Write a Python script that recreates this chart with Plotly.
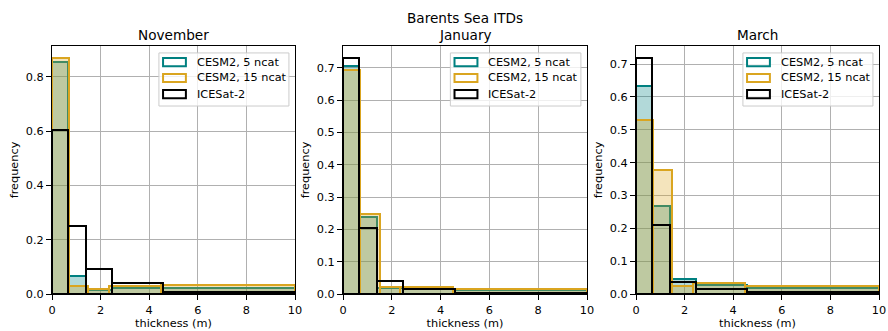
import plotly.graph_objects as go
import numpy as np

# ---- data ----
months = ["November", "January", "March"]
edges_5ncat = [0.0, 0.64, 1.39, 2.47, 4.57, 10.0]
edges_15ncat = [0.0, 0.70, 1.50, 2.33, 4.49, 10.0]
edges_icesat = [0.0, 0.64, 1.39, 2.47, 4.57, 10.0]

cesm5_nov = [0.854, 0.065, 0.015, 0.021, 0.023]
cesm15_nov = [0.870, 0.031, 0.017, 0.031, 0.033]
icesat_nov = [0.603, 0.251, 0.091, 0.041, 0.008]

cesm5_jan = [0.705, 0.238, 0.018, 0.017, 0.012]
cesm15_jan = [0.692, 0.248, 0.021, 0.021, 0.016]
icesat_jan = [0.731, 0.204, 0.040, 0.016, 0.004]

cesm5_mar = [0.632, 0.269, 0.045, 0.028, 0.018]
cesm15_mar = [0.529, 0.378, 0.025, 0.034, 0.023]
icesat_mar = [0.719, 0.209, 0.037, 0.016, 0.005]

series_labels = ["CESM2, 5 ncat", "CESM2, 15 ncat", "ICESat-2"]
x_ticks = [0, 2, 4, 6, 8, 10]

cesm5 = [cesm5_nov, cesm5_jan, cesm5_mar]
cesm15 = [cesm15_nov, cesm15_jan, cesm15_mar]
icesat = [icesat_nov, icesat_jan, icesat_mar]

# ---- style ----
TEAL = "#008080"
GOLD = "#DAA520"
FONT = "DejaVu Sans"
FS = 11.3
TFS = 13.6

W, H = 888, 331
ML, MR, MT, MB = 52, 9, 46, 37
pw = W - ML - MR
ph = H - MT - MB
domains = [
    [0.0, 243 / pw],
    [291 / pw, 535 / pw],
    [584 / pw, 1.0],
]

fig = go.Figure()

def add_bars(edges, vals, fill, line, k):
    e = np.array(edges)
    fig.add_trace(go.Bar(
        x=e[:-1], y=vals, width=np.diff(e), offset=0,
        marker=dict(color=fill, line=dict(color=line, width=2)),
        xaxis=f"x{k if k > 1 else ''}", yaxis=f"y{k if k > 1 else ''}",
        showlegend=False, hoverinfo="skip",
    ))

for i in range(3):
    k = i + 1
    add_bars(edges_5ncat, cesm5[i], "rgba(0,128,128,0.3)", TEAL, k)
    add_bars(edges_15ncat, cesm15[i], "rgba(218,165,32,0.3)", GOLD, k)
    add_bars(edges_icesat, icesat[i], "rgba(0,0,0,0)", "black", k)

layout = dict(
    width=W, height=H,
    margin=dict(l=ML, r=MR, t=MT, b=MB, autoexpand=False),
    paper_bgcolor="white", plot_bgcolor="white",
    barmode="overlay", bargap=0,
    font=dict(family=FONT, size=FS, color="black"),
    showlegend=False,
)

axis_common = dict(
    showline=True, linecolor="black", linewidth=1, mirror=True,
    ticks="outside", ticklen=5, tickwidth=1, tickcolor="black",
    showgrid=True, gridcolor="#b0b0b0", gridwidth=1,
    zeroline=False, tickfont=dict(family=FONT, size=FS, color="black"),
    automargin=False,
)

shapes = []
annotations = []
for i in range(3):
    k = i + 1
    sfx = "" if k == 1 else str(k)
    ymax = max(max(cesm5[i]), max(cesm15[i]), max(icesat[i])) * 1.05
    dt = 0.2 if i == 0 else 0.1
    layout[f"xaxis{sfx}"] = dict(
        axis_common, domain=domains[i], range=[0, 10], tickvals=x_ticks,
        anchor=f"y{sfx}",
        title=dict(text="thickness (m)", font=dict(family=FONT, size=FS), standoff=1),
    )
    layout[f"yaxis{sfx}"] = dict(
        axis_common, domain=[0, 1], range=[0, ymax], dtick=dt, tick0=0,
        tickformat=".1f", anchor=f"x{sfx}",
        title=dict(text="frequency", font=dict(family=FONT, size=FS), standoff=4),
    )
    xr = f"x{sfx} domain"
    yr = f"y{sfx} domain"
    # subplot title
    annotations.append(dict(
        text=months[i], xref=xr, yref=yr, x=0.5, y=1 + 11 / ph,
        xanchor="center", yanchor="middle", showarrow=False,
        font=dict(family=FONT, size=TFS, color="black"),
    ))
    # legend box
    shapes.append(dict(
        type="rect", xref=xr, yref=yr, x0=0.44, x1=0.975, y0=0.758, y1=0.972,
        fillcolor="rgba(255,255,255,0.8)", line=dict(color="#cccccc", width=1),
        layer="above",
    ))
    for j, (lab, col) in enumerate(zip(series_labels, [TEAL, GOLD, "black"])):
        yc = [0.935, 0.871, 0.806][j]
        shapes.append(dict(
            type="rect", xref=xr, yref=yr, x0=0.457, x1=0.551,
            y0=yc - 0.0165, y1=yc + 0.0165,
            fillcolor="rgba(255,255,255,0)", line=dict(color=col, width=2),
            layer="above",
        ))
        annotations.append(dict(
            text=lab, xref=xr, yref=yr, x=0.588, y=yc,
            xanchor="left", yanchor="middle", showarrow=False,
            font=dict(family=FONT, size=FS, color="black"),
        ))

annotations.append(dict(
    text="Barents Sea ITDs", xref="paper", yref="paper",
    x=(465 - ML) / pw, y=(H - MB - 18) / ph,
    xanchor="center", yanchor="middle", showarrow=False,
    font=dict(family=FONT, size=TFS, color="black"),
))

layout["shapes"] = shapes
layout["annotations"] = annotations
fig.update_layout(**layout)
fig.write_html("out.html")
